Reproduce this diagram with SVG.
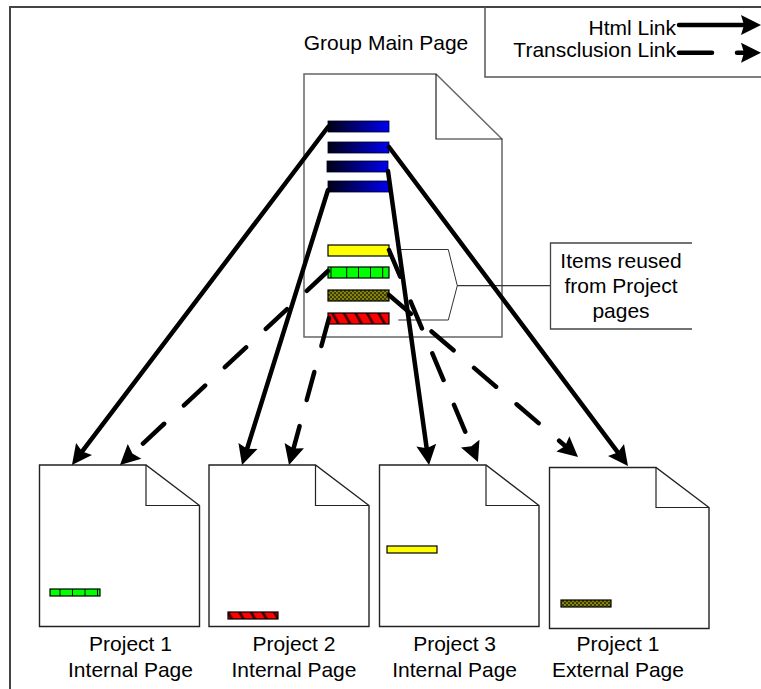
<svg xmlns="http://www.w3.org/2000/svg" width="761" height="689" viewBox="0 0 761 689">
  <style>
    text { font-family: "Liberation Sans", Arial, sans-serif; font-size: 21px; fill: #000; }
    .page { fill: #fff; stroke: #222; stroke-width: 1.4; }
    .fold { fill: none; stroke: #222; stroke-width: 1.2; }
    .link { fill: none; stroke: #000; stroke-width: 4.5; stroke-linecap: round; marker-end: url(#arrow); }
    .trans { stroke-dasharray: 29 27; }
    .bar { stroke: #000; stroke-width: 1.2; }
    .seg { stroke: #000; stroke-width: 1; }
  </style>
  <defs>
    <marker id="arrow" viewBox="-11 -11 24 22" refX="0" refY="0" markerWidth="24" markerHeight="22" markerUnits="userSpaceOnUse" orient="auto">
      <path d="M11,0 L-9,-10 L-6,0 L-9,10 Z" fill="#000"/>
    </marker>
    <linearGradient id="blueGrad" x1="0" y1="0" x2="1" y2="0">
      <stop offset="0" stop-color="#000014"/>
      <stop offset="1" stop-color="#0000f0"/>
    </linearGradient>
    <pattern id="redHatch" patternUnits="userSpaceOnUse" width="10" height="10" patternTransform="rotate(-30)">
      <rect width="10" height="10" fill="#ff0000"/>
      <rect x="0" y="0" width="2.6" height="10" fill="#3a0000"/>
    </pattern>
    <pattern id="oliveDots" patternUnits="userSpaceOnUse" width="4" height="4">
      <rect width="4" height="4" fill="#3c3c00"/>
      <circle cx="1" cy="1" r="1.05" fill="#909010"/>
      <circle cx="3" cy="3" r="1.05" fill="#909010"/>
    </pattern>
  </defs>

  <rect width="761" height="689" fill="#fff"/>

  <g id="frame">
    <rect x="10" y="7" width="790" height="720" fill="none" stroke="#444" stroke-width="2"/>
  </g>

  <g id="legend">
    <path d="M485,7 L485,77 L770,77" fill="none" stroke="#555" stroke-width="1.5"/>
    <text x="676" y="35" text-anchor="end">Html Link</text>
    <text x="676" y="56.7" text-anchor="end">Transclusion Link</text>
    <path d="M679,25 L750,25" class="link"/>
    <path d="M679,52.7 L712,52.7" fill="none" stroke="#000" stroke-width="4.5" stroke-linecap="round"/>
    <path d="M737,52.7 L750,52.7" class="link"/>
  </g>

  <g id="group-main-page">
    <text x="386" y="50" text-anchor="middle">Group Main Page</text>
    <path d="M304,74 L436,74 L502,139 L502,337 L304,337 Z" fill="#fff" stroke="#666" stroke-width="1.5"/>
    <path d="M436,74 L436,139 L502,139" class="fold"/>
    <rect x="328" y="121" width="61" height="11" fill="url(#blueGrad)" stroke="#000022" stroke-width="0.8"/>
    <rect x="328" y="142" width="61" height="11" fill="url(#blueGrad)" stroke="#000022" stroke-width="0.8"/>
    <rect x="327" y="161" width="61" height="11" fill="url(#blueGrad)" stroke="#000022" stroke-width="0.8"/>
    <rect x="328" y="181" width="61" height="11" fill="url(#blueGrad)" stroke="#000022" stroke-width="0.8"/>
    <rect x="328" y="245" width="61" height="11" fill="#ffff00" class="bar"/>
    <rect x="328" y="267" width="61" height="11" fill="#00ff00" class="bar"/>
    <path d="M331,267 V278 M346.7,267 V278 M358.5,267 V278 M370.5,267 V278 M382.7,267 V278" class="seg"/>
    <rect x="328" y="290" width="61" height="11" fill="url(#oliveDots)" class="bar"/>
    <rect x="328" y="313" width="61" height="11" fill="url(#redHatch)" class="bar"/>
  </g>

  <g id="reuse-brace">
    <path d="M400,249.5 L448.3,249.5 L457.3,285.7 L448.3,320 L398.3,320" fill="none" stroke="#333" stroke-width="1"/>
    <path d="M457.3,285.7 L550.5,285.7" fill="none" stroke="#333" stroke-width="1.3"/>
  </g>

  <g id="items-note">
    <path d="M692,243 L550.5,243 L550.5,329 L692,329" fill="#fff" stroke="#444" stroke-width="1.3"/>
    <text x="621" y="267.5" text-anchor="middle">Items reused</text>
    <text x="621" y="292.5" text-anchor="middle">from Project</text>
    <text x="621" y="317.5" text-anchor="middle">pages</text>
  </g>

  <g id="project1-internal">
    <path d="M39.5,465 L146,465 L199.5,505.5 L199.5,626.5 L39.5,626.5 Z" class="page"/>
    <path d="M146,465 L146,505.5 L199.5,505.5" class="fold"/>
    <rect x="50" y="589" width="50" height="7" fill="#00ff00" class="bar"/>
    <path d="M60,589 V596 M72.5,589 V596 M85,589 V596 M97.5,589 V596" class="seg"/>
    <text x="130.5" y="651" text-anchor="middle">Project 1</text>
    <text x="130.5" y="677" text-anchor="middle">Internal Page</text>
  </g>

  <g id="project2-internal">
    <path d="M209,465 L315.5,465 L369,505.5 L369,626.5 L209,626.5 Z" class="page"/>
    <path d="M315.5,465 L315.5,505.5 L369,505.5" class="fold"/>
    <rect x="228" y="612" width="50" height="7" fill="url(#redHatch)" class="bar"/>
    <text x="294" y="651" text-anchor="middle">Project 2</text>
    <text x="294" y="677" text-anchor="middle">Internal Page</text>
  </g>

  <g id="project3-internal">
    <path d="M379.5,465 L486,465 L539,505.5 L539,626.5 L379.5,626.5 Z" class="page"/>
    <path d="M486,465 L486,505.5 L539,505.5" class="fold"/>
    <rect x="387" y="546" width="50" height="7" fill="#ffff00" class="bar"/>
    <text x="454.6" y="651" text-anchor="middle">Project 3</text>
    <text x="454.6" y="677" text-anchor="middle">Internal Page</text>
  </g>

  <g id="project1-external">
    <path d="M549.5,467.5 L656,467.5 L709,507.5 L709,628.5 L549.5,628.5 Z" class="page"/>
    <path d="M656,467.5 L656,507.5 L709,507.5" class="fold"/>
    <rect x="561" y="600" width="50" height="7" fill="url(#oliveDots)" class="bar"/>
    <text x="618" y="651" text-anchor="middle">Project 1</text>
    <text x="618" y="677" text-anchor="middle">External Page</text>
  </g>

  <g id="connectors">
    <path d="M328,127 L78.6,456.2" class="link"/>
    <path d="M389,147 L621.4,457.2" class="link"/>
    <path d="M388,171 L427.5,454.1" class="link"/>
    <path d="M328,190 L245.3,454.5" class="link"/>
    <path d="M328,271 L128,457.5" class="link trans"/>
    <path d="M329,318 L291.9,454.4" class="link trans"/>
    <path d="M389,250 L473.7,451.9" class="link trans"/>
    <path d="M389,295 L569.7,449.8" class="link trans"/>
  </g>
</svg>
